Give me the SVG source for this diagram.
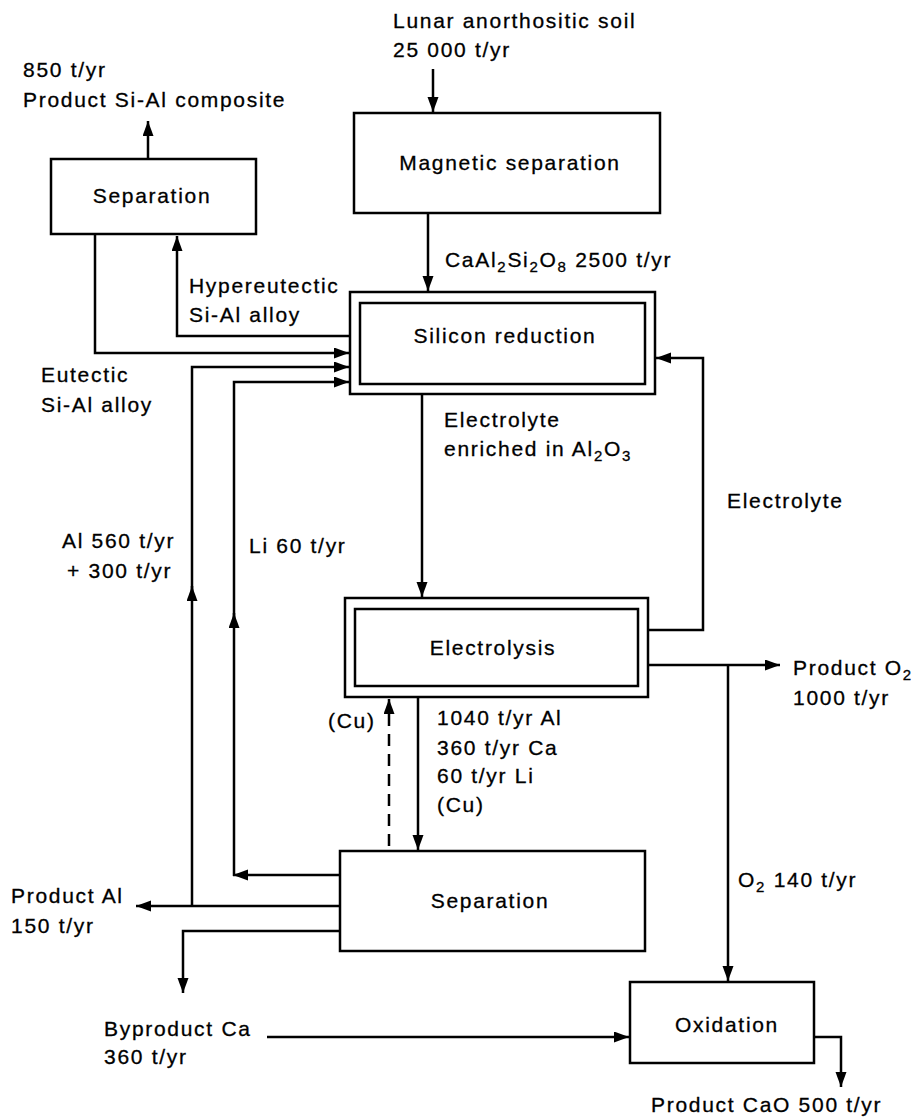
<svg xmlns="http://www.w3.org/2000/svg" width="913" height="1118" viewBox="0 0 913 1118">
<style>
text{font-family:"Liberation Sans",Arial,sans-serif;font-size:21px;letter-spacing:1.7px;fill:#000;stroke:#000;stroke-width:0.3}
.c{text-anchor:middle}
.box{fill:#fff;stroke:#000;stroke-width:2.5}
.ln{fill:none;stroke:#000;stroke-width:2.5}
.dash{stroke-dasharray:12 8}
.sub{font-size:15px}
</style>
<defs>
<marker id="ah" markerUnits="userSpaceOnUse" markerWidth="16" markerHeight="12" refX="15" refY="5.5" orient="auto">
<path d="M0,0 L15,5.5 L0,11 z" fill="#000"/>
</marker>
</defs>
<rect width="913" height="1118" fill="#fff"/>

<g id="connectors">
<line class="ln" x1="433" y1="69" x2="433" y2="112" marker-end="url(#ah)"/>
<line class="ln" x1="428" y1="213" x2="428" y2="291" marker-end="url(#ah)"/>
<line class="ln" x1="148" y1="159" x2="148" y2="121" marker-end="url(#ah)"/>
<path class="ln" d="M350,336 H177 V236" marker-end="url(#ah)"/>
<path class="ln" d="M95,234 V353 H349" marker-end="url(#ah)"/>
<path class="ln" d="M192,906 V367 H349" marker-end="url(#ah)"/>
<line class="ln" x1="192" y1="600" x2="192" y2="586" marker-end="url(#ah)"/>
<line class="ln" x1="340" y1="875" x2="233" y2="875" marker-end="url(#ah)"/>
<path class="ln" d="M234,876 V382 H349" marker-end="url(#ah)"/>
<line class="ln" x1="234" y1="628" x2="234" y2="613" marker-end="url(#ah)"/>
<line class="ln" x1="340" y1="906" x2="136" y2="906" marker-end="url(#ah)"/>
<path class="ln" d="M340,931 H183 V993" marker-end="url(#ah)"/>
<line class="ln" x1="267" y1="1037" x2="629" y2="1037" marker-end="url(#ah)"/>
<line class="ln" x1="422" y1="394" x2="422" y2="597" marker-end="url(#ah)"/>
<path class="ln" d="M648,630 H703 V358 H656" marker-end="url(#ah)"/>
<line class="ln" x1="648" y1="665" x2="780" y2="665" marker-end="url(#ah)"/>
<path class="ln" d="M728,665 V981" marker-end="url(#ah)"/>
<line class="ln" x1="418" y1="697" x2="418" y2="850" marker-end="url(#ah)"/>
<line class="ln dash" x1="389" y1="846" x2="389" y2="699" marker-end="url(#ah)"/>
<path class="ln" d="M814,1037 H841 V1087" marker-end="url(#ah)"/>
</g>

<g id="lbl-feed">
<text x="393" y="28">Lunar anorthositic soil</text>
<text x="393" y="57">25 000 t/yr</text>
</g>
<g id="lbl-composite">
<text x="23" y="77">850 t/yr</text>
<text x="23" y="107">Product Si-Al composite</text>
</g>

<g id="node-separation-top">
<rect class="box" x="51" y="159" width="205" height="75"/>
<text class="c" x="152" y="203">Separation</text>
</g>

<g id="node-magnetic">
<rect class="box" x="354" y="113" width="306" height="100"/>
<text class="c" x="510" y="170">Magnetic separation</text>
</g>

<text x="445" y="267">CaAl<tspan class="sub" dy="5">2</tspan><tspan dy="-5">Si</tspan><tspan class="sub" dy="5">2</tspan><tspan dy="-5">O</tspan><tspan class="sub" dy="5">8</tspan><tspan dy="-5"> 2500 t/yr</tspan></text>

<g id="lbl-hyper">
<text x="189" y="293">Hypereutectic</text>
<text x="189" y="322">Si-Al alloy</text>
</g>

<g id="node-silicon">
<rect class="box" x="350" y="292" width="305" height="102"/>
<rect class="box" x="360" y="303" width="285" height="81"/>
<text class="c" x="505" y="343">Silicon reduction</text>
</g>

<g id="lbl-eutectic">
<text x="41" y="382">Eutectic</text>
<text x="41" y="412">Si-Al alloy</text>
</g>

<g id="lbl-enriched">
<text x="444" y="427">Electrolyte</text>
<text x="444" y="456">enriched in Al<tspan class="sub" dy="5">2</tspan><tspan dy="-5">O</tspan><tspan class="sub" dy="5">3</tspan></text>
</g>
<text x="727" y="508">Electrolyte</text>

<g id="lbl-al">
<text x="62" y="548">Al 560 t/yr</text>
<text x="67" y="578">+ 300 t/yr</text>
</g>
<text x="249" y="553">Li 60 t/yr</text>

<g id="node-electrolysis">
<rect class="box" x="345" y="598" width="303" height="99"/>
<rect class="box" x="355" y="609" width="283" height="77"/>
<text class="c" x="493" y="655">Electrolysis</text>
</g>

<g id="lbl-o2">
<text x="793" y="675">Product O<tspan class="sub" dy="5">2</tspan></text>
<text x="793" y="705">1000 t/yr</text>
</g>

<text x="328" y="728">(Cu)</text>
<g id="lbl-metals">
<text x="437" y="725">1040 t/yr Al</text>
<text x="437" y="755">360 t/yr Ca</text>
<text x="437" y="783">60 t/yr Li</text>
<text x="437" y="812">(Cu)</text>
</g>

<g id="node-separation-bottom">
<rect class="box" x="340" y="851" width="305" height="100"/>
<text class="c" x="490" y="908">Separation</text>
</g>

<g id="lbl-productal">
<text x="11" y="903">Product Al</text>
<text x="11" y="933">150 t/yr</text>
</g>

<text x="738" y="887">O<tspan class="sub" dy="5">2</tspan><tspan dy="-5"> 140 t/yr</tspan></text>

<g id="lbl-ca">
<text x="104" y="1036">Byproduct Ca</text>
<text x="104" y="1064">360 t/yr</text>
</g>

<g id="node-oxidation">
<rect class="box" x="630" y="982" width="184" height="81"/>
<text class="c" x="727" y="1032">Oxidation</text>
</g>

<text x="651" y="1112">Product CaO 500 t/yr</text>
</svg>
